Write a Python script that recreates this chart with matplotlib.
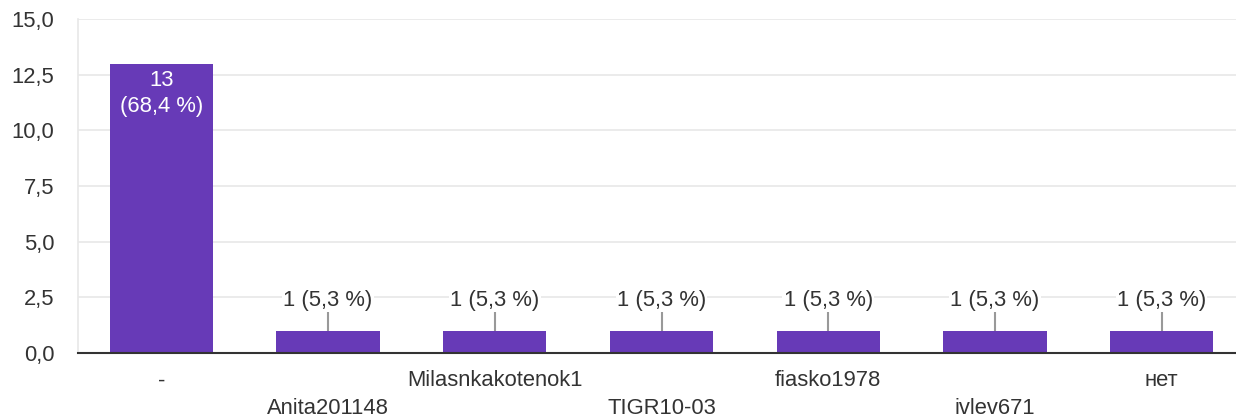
import matplotlib.pyplot as plt
import numpy as np

plt.rcParams['font.family'] = ['Liberation Sans', 'DejaVu Sans']

categories = ['-', 'Anita201148', 'Milasnkakotenok1', 'TIGR10-03', 'fiasko1978', 'ivlev671', 'нет']
counts = [13, 1, 1, 1, 1, 1, 1]
percents = ['68,4', '5,3', '5,3', '5,3', '5,3', '5,3', '5,3']
yticks = [0, 2.5, 5, 7.5, 10, 12.5, 15]

bar_color = '#673ab7'
text_color = '#333333'
fs = 15.8

fig = plt.figure(figsize=(12.36, 4.2), dpi=100)
ax = fig.add_axes([78 / 1236, 1 - 353 / 420, (1245 - 78) / 1236, (353 - 19) / 420])

x = np.arange(len(categories))
ax.bar(x, counts, width=0.62, color=bar_color, zorder=3)

ax.set_xlim(-0.5, len(categories) - 0.5)
ax.set_ylim(0, 15)
ax.set_yticks(yticks)
ax.set_yticklabels([('%.1f' % t).replace('.', ',') for t in yticks], fontsize=fs, color=text_color)
ax.tick_params(axis='y', length=0, pad=17)
ax.grid(axis='y', color='#e8e8e8', linewidth=1.2, zorder=0)
ax.set_axisbelow(True)

for side in ['top', 'right']:
    ax.spines[side].set_visible(False)
ax.spines['left'].set_color('#e8e8e8')
ax.spines['left'].set_linewidth(1.2)
ax.spines['bottom'].set_color('#333333')
ax.spines['bottom'].set_linewidth(1.5)
ax.spines['bottom'].set_zorder(4)

ax.set_xticks(x)
ax.set_xticklabels([])
ax.tick_params(axis='x', length=0)
for i, name in enumerate(categories):
    off = 28 if i % 2 == 0 else 56
    ax.annotate(name, (i, 0), xytext=(0, -off), textcoords='offset pixels',
                ha='center', va='center', fontsize=fs, color=text_color)

for i, (c, p) in enumerate(zip(counts, percents)):
    if c > 5:
        ax.text(i, c - 0.3, '%d\n(%s %%)' % (c, p), ha='center', va='top', fontsize=fs,
                color='white', linespacing=1.3, zorder=5)
    else:
        ax.plot([i, i], [c, 1.9], color='#999999', linewidth=1.5, zorder=2)
        ax.text(i, 2.35, '%d (%s %%)' % (c, p), ha='center', va='center', fontsize=fs,
                color=text_color, zorder=5,
                bbox=dict(boxstyle='square,pad=0.05', facecolor='white', edgecolor='none'))

fig.savefig('out.png', dpi=100)
